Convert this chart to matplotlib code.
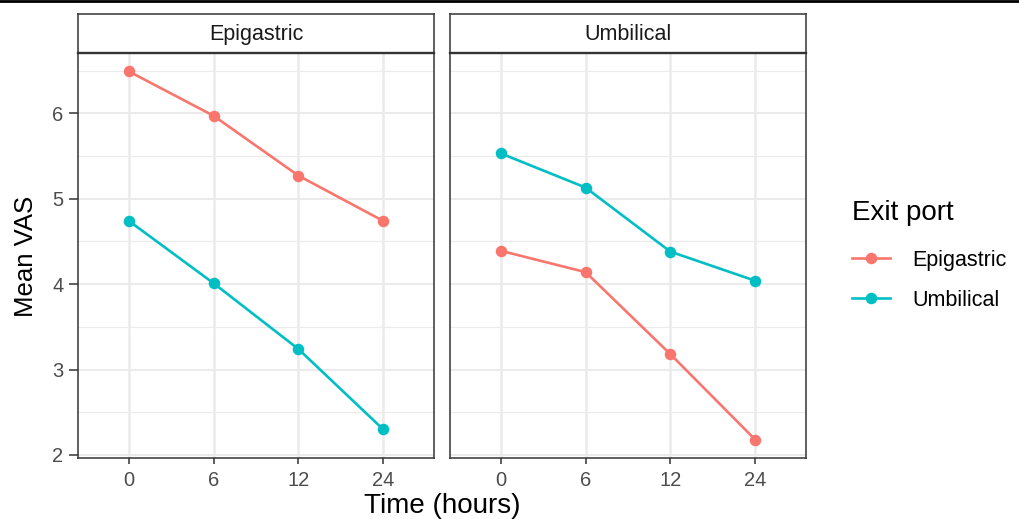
import matplotlib
matplotlib.use("Agg")
import matplotlib.pyplot as plt
from matplotlib.lines import Line2D

plt.rcParams['font.family'] = ['Liberation Sans', 'DejaVu Sans']

# ---- data ----
time_labels = ["0", "6", "12", "24"]
panels = ["Epigastric", "Umbilical"]
series_names = ["Epigastric", "Umbilical"]
series_colors = ["#F8766D", "#00BFC4"]

# values[panel][series]
epi_panel_epigastric = [6.49, 5.97, 5.27, 4.74]
epi_panel_umbilical = [4.74, 4.01, 3.24, 2.30]
umb_panel_epigastric = [4.39, 4.14, 3.18, 2.18]
umb_panel_umbilical = [5.53, 5.13, 4.38, 4.04]

panel_data = {
    "Epigastric": [epi_panel_epigastric, epi_panel_umbilical],
    "Umbilical": [umb_panel_epigastric, umb_panel_umbilical],
}

y_ticks = [2, 3, 4, 5, 6]
y_minor = [2.5, 3.5, 4.5, 5.5, 6.5]

W, H = 1020, 519
fig = plt.figure(figsize=(W / 100, H / 100), dpi=100)

border = "#333333"
grid_major = "#EBEBEB"
tick_col = "#4D4D4D"

panel_px = [(78, 434), (450, 806)]
top_px, bot_px, strip_top_px = 53, 458, 14

allv = [v for p in panel_data.values() for s in p for v in s]
rng = max(allv) - min(allv)
ylo, yhi = min(allv) - 0.05 * rng, max(allv) + 0.05 * rng

for i, (pname, (l, r)) in enumerate(zip(panels, panel_px)):
    ax = fig.add_axes([l / W, 1 - bot_px / H, (r - l) / W, (bot_px - top_px) / H])
    xs = list(range(len(time_labels)))
    # grid
    for yv in y_minor:
        ax.axhline(yv, color=grid_major, lw=0.8, zorder=0)
    for yv in y_ticks:
        ax.axhline(yv, color=grid_major, lw=1.5, zorder=0)
    for xv in xs:
        ax.axvline(xv, color=grid_major, lw=1.8, zorder=0)
    for sname, col, vals in zip(series_names, series_colors, panel_data[pname]):
        ax.plot(xs, vals, color=col, lw=1.9, marker="o", markersize=8.3,
                markeredgewidth=0, zorder=3, label=sname)
    ax.set_xlim(-0.6, len(xs) - 1 + 0.6)
    ax.set_ylim(ylo, yhi)
    ax.set_xticks(xs)
    ax.set_xticklabels(time_labels)
    ax.set_yticks(y_ticks)
    ax.set_yticklabels([str(t) for t in y_ticks])
    for sp in ax.spines.values():
        sp.set_color(border)
        sp.set_linewidth(1.1)
    ax.tick_params(axis="both", colors=border, labelcolor=tick_col, labelsize=14.5,
                   width=1.1)
    ax.tick_params(axis="x", length=4.5, pad=5)
    ax.tick_params(axis="y", length=6.5, pad=4)
    if i > 0:
        ax.tick_params(axis="y", left=False, labelleft=False)
    # strip
    sax = fig.add_axes([l / W, 1 - top_px / H, (r - l) / W, (top_px - strip_top_px) / H])
    sax.set_xticks([]); sax.set_yticks([])
    sax.set_facecolor("white")
    for sp in sax.spines.values():
        sp.set_color(border)
        sp.set_linewidth(1.1)
    sax.spines["bottom"].set_linewidth(1.7)
    sax.text(0.5, 0.47, pname, ha="center", va="center", fontsize=15.5,
             color="#1A1A1A", transform=sax.transAxes)

fig.text(26 / W, 1 - 256 / H, "Mean VAS", rotation=90, ha="center", va="center",
         fontsize=18.5, color="black")
fig.text(442 / W, 1 - 506 / H, "Time (hours)", ha="center", va="center",
         fontsize=20, color="black")

handles = [Line2D([], [], color=c, lw=1.9, marker="o", markersize=8.3, markeredgewidth=0)
           for c in series_colors]
leg = fig.legend(handles, series_names, loc="upper left",
                 bbox_to_anchor=(852 / W, 1 - 200 / H), frameon=False,
                 borderpad=0, borderaxespad=0,
                 title="Exit port", title_fontsize=20, fontsize=15.5,
                 handlelength=1.75, handletextpad=1.05, labelspacing=0.9,
                 alignment="left")
leg._legend_box.sep = 17

# top black rule
fig.add_artist(Line2D([0, 1], [1 - 1 / H, 1 - 1 / H], color="black", lw=2,
                      transform=fig.transFigure))

fig.savefig("out.png", dpi=100)
